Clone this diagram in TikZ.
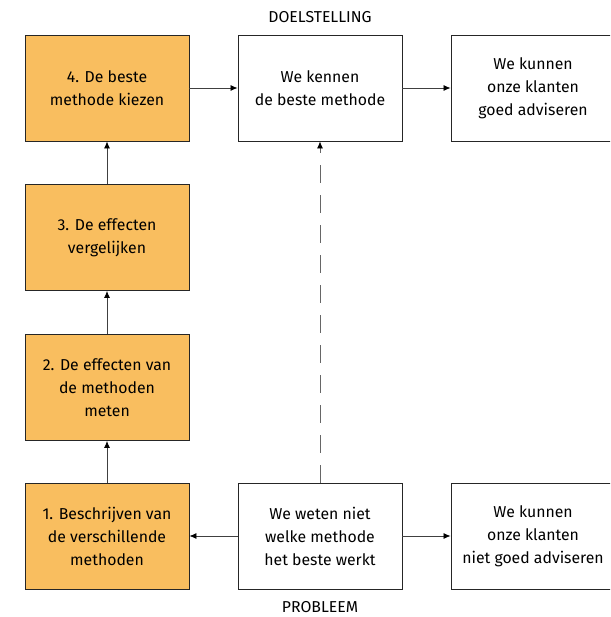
\documentclass[tikz,border=0pt]{standalone}
\usepackage{fontspec}
\setmainfont{Fira Sans}
\usetikzlibrary{arrows.meta}
\definecolor{oranje}{RGB}{249,190,95}
\tikzset{
        pijl/.style={draw=black!75, line width=0.8pt, -{Latex[length=7pt,width=6pt,fill=black,color=black]}},
    }

\begin{document}
\begin{tikzpicture}[x=1pt,y=-1pt,
          blok/.style = {draw=black!85, line width=0.9pt, minimum width=164pt, minimum height=106pt,
                         align=center, inner sep=2pt, font=\fontsize{15.8}{23}\selectfont},
          stap/.style = {blok, fill=oranje},
          kop/.style = {font=\fontsize{15.8}{18}\selectfont}
          ]
 \useasboundingbox (0,0) rectangle (610,617);
 \clip (0,0) rectangle (610,617);
          % linker kolom
          \node[stap] (@vier) at (107,88) {4. De beste\\methode kiezen};
          \node[stap] (@drie) at (107,237.5) {3. De effecten\\vergelijken};
          \node[stap] (@twee) at (107,387.5) {2. De effecten van\\de methoden\\meten};
          \node[stap] (@een) at (107,536) {1. Beschrijven van\\de verschillende\\methoden};
          % midden en rechts
          \node[blok] (@doel) at (320,88) {We kennen\\de beste methode};
          \node[blok] (@goed) at (533,88) {We kunnen\\onze klanten\\goed adviseren};
          \node[blok] (@prob) at (320,536) {We weten niet\\welke methode\\het beste werkt};
          \node[blok] (@niet) at (533,536) {We kunnen\\onze klanten\\niet goed adviseren};
          \node[kop] (@kopdoel) at (320,17) {DOELSTELLING};
          \node[kop] (@kopprob) at (320,607) {PROBLEEM};
          % pijlen
          \draw[pijl] (@een) -- (@twee);
          \draw[pijl] (@twee) -- (@drie);
          \draw[pijl] (@drie) -- (@vier);
          \draw[pijl] (@vier) -- (@doel);
          \draw[pijl] (@doel.east) -- (@goed.west);
          \draw[pijl] (@prob) -- (@een);
          \draw[pijl] (@prob.east) -- (@niet.west);
          \draw[pijl, draw=black!60, dash pattern=on 18pt off 12pt] (@prob) -- (@doel);
        \end{tikzpicture}
\end{document}
